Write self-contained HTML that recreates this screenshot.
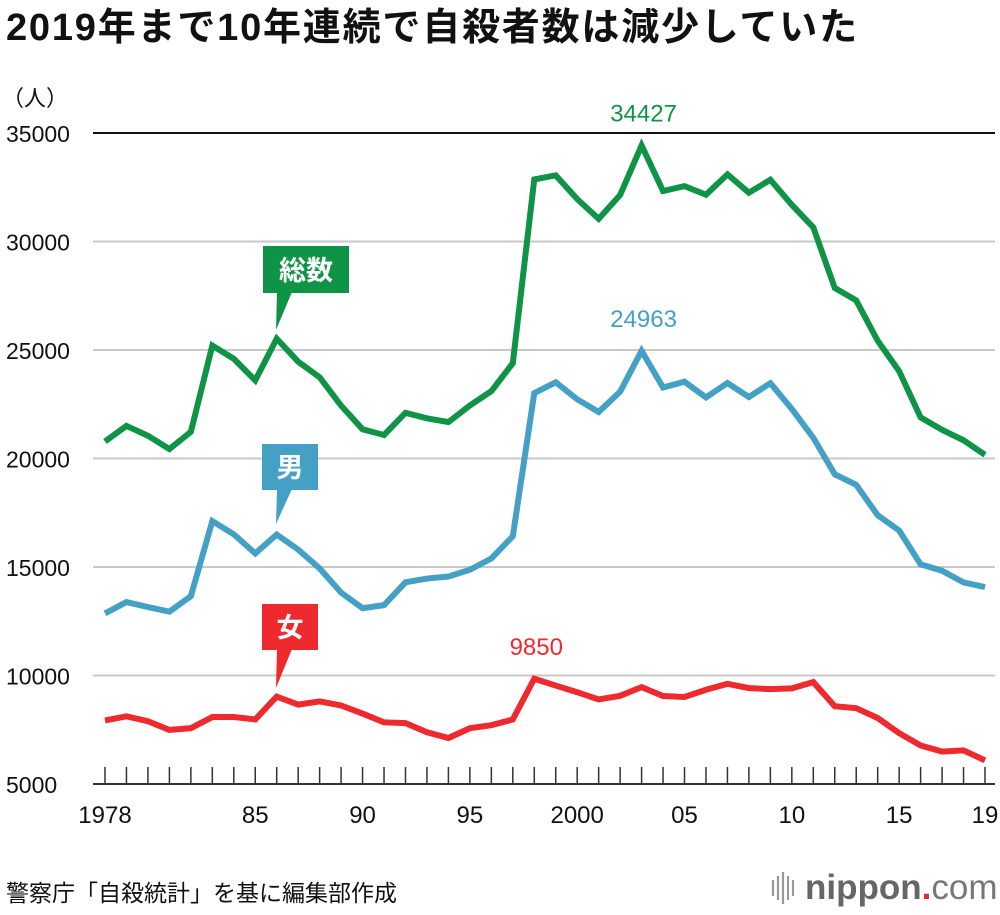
<!DOCTYPE html>
<html><head><meta charset="utf-8"><style>
body{margin:0;background:#fff;width:1000px;height:910px;overflow:hidden;font-family:"Liberation Sans","Noto Sans CJK JP",sans-serif}
</style></head><body>
<svg id="chart" width="1000" height="910" xmlns="http://www.w3.org/2000/svg" font-family="Liberation Sans, Noto Sans CJK JP, sans-serif">
<text x="6" y="40" font-size="38" font-weight="bold" letter-spacing="1.8" fill="#111">2019年まで10年連続で自殺者数は減少していた</text>
<text x="2" y="106" font-size="22" fill="#111">（人）</text>
<g id="grid"></g><g id="ticks"></g><g id="lines"></g><g id="labels"></g>
<g>
<rect x="263" y="246" width="86" height="47" fill="#0f9447"/>
<polygon points="277,292 292,292 276,330" fill="#0f9447"/>
<text x="306" y="280" font-size="27" font-weight="bold" fill="#fff" text-anchor="middle">総数</text></g>
<g>
<rect x="262" y="444" width="56" height="46" fill="#45a0c6"/>
<polygon points="277,489 292,489 276,524" fill="#45a0c6"/>
<text x="290" y="477" font-size="27" font-weight="bold" fill="#fff" text-anchor="middle">男</text></g>
<g>
<rect x="262" y="604" width="56" height="46" fill="#ee2a2e"/>
<polygon points="277,649 292,649 276,688" fill="#ee2a2e"/>
<text x="290" y="637" font-size="27" font-weight="bold" fill="#fff" text-anchor="middle">女</text></g>
<text x="6" y="901" font-size="23" fill="#111">警察庁「自殺統計」を基に編集部作成</text>
<g>
<g stroke="#999" stroke-width="2.2"><line x1="773" y1="880" x2="773" y2="896"/><line x1="778" y1="876" x2="778" y2="900"/><line x1="783" y1="872" x2="783" y2="904"/><line x1="788" y1="876" x2="788" y2="900"/><line x1="793" y1="880" x2="793" y2="896"/></g>
<text x="805" y="899" font-size="35" font-weight="bold" fill="#666">nippon<tspan fill="#e8262c">.</tspan><tspan font-weight="normal" fill="#777">com</tspan></text></g>
</svg>
<script>
const years=[1978,1979,1980,1981,1982,1983,1984,1985,1986,1987,1988,1989,1990,1991,1992,1993,1994,1995,1996,1997,1998,1999,2000,2001,2002,2003,2004,2005,2006,2007,2008,2009,2010,2011,2012,2013,2014,2015,2016,2017,2018,2019];
const total=[20788,21503,21048,20434,21228,25202,24596,23599,25524,24460,23742,22436,21346,21084,22104,21851,21679,22445,23104,24391,32863,33048,31957,31042,32143,34427,32325,32552,32155,33093,32249,32845,31690,30651,27858,27283,25427,24025,21897,21321,20840,20169];
const male=[12859,13386,13155,12942,13654,17116,16508,15624,16497,15802,14934,13818,13102,13242,14296,14468,14560,14874,15393,16416,23013,23512,22727,22144,23080,24963,23272,23540,22813,23478,22831,23472,22283,20955,19273,18787,17386,16681,15121,14826,14290,14078];
const female=[7929,8117,7893,7492,7574,8086,8088,7975,9027,8658,8808,8618,8244,7842,7808,7383,7119,7571,7711,7975,9850,9536,9230,8898,9063,9464,9053,9012,9342,9615,9418,9373,9407,9696,8585,8496,8041,7344,6776,6495,6550,6091];
const yTicks=[5000,10000,15000,20000,25000,30000,35000];
const xLabelYears=[1978,1985,1990,1995,2000,2005,2010,2015,2019];
const xLabelText=["1978","85","90","95","2000","05","10","15","19"];
const NS="http://www.w3.org/2000/svg";
const X=y=>105+(y-1978)*(985-105)/41;
const Y=v=>784-(v-5000)*(784-133)/30000;
function mk(tag,attrs,parent){const e=document.createElementNS(NS,tag);for(const k in attrs)e.setAttribute(k,attrs[k]);document.getElementById(parent).appendChild(e);return e;}
yTicks.forEach(v=>{
  if(v>5000){const l=mk('line',{x1:93,x2:995,y1:Y(v),y2:Y(v),stroke:v===35000?'#111':'#c8c8c8','stroke-width':2},'grid');
  
  }
  const t=mk('text',{x:6,y:Y(v)+9,'font-size':23,fill:'#111'},'grid');t.textContent=v;
  
  
});
const ax=mk('line',{x1:93,x2:995,y1:784,y2:784,stroke:'#333','stroke-width':2},'ticks');


years.forEach(y=>{const t=mk('line',{x1:X(y),x2:X(y),y1:767,y2:784,stroke:'#333','stroke-width':1.5},'ticks');

});
xLabelYears.forEach((y,i)=>{const t=mk('text',{x:X(y),y:823,'font-size':24,fill:'#111','text-anchor':'middle'},'ticks');t.textContent=xLabelText[i];

});
function series(arr,color,name){
  const p=mk('polyline',{points:arr.map((v,i)=>X(years[i])+','+Y(v)).join(' '),fill:'none',stroke:color,'stroke-width':6,'stroke-linejoin':'miter','stroke-miterlimit':3},'lines');
  
  
  let m=0;arr.forEach((v,i)=>{if(v>arr[m])m=i;});
  const t=mk('text',{x:X(years[m])+2,y:Y(arr[m])-24,'font-size':24,fill:color,'text-anchor':'middle'},'labels');t.textContent=arr[m];
  
  
}
series(total,'#0f9447','line-total');
series(male,'#45a0c6','line-male');
series(female,'#ee2a2e','line-female');
</script>
</body></html>
